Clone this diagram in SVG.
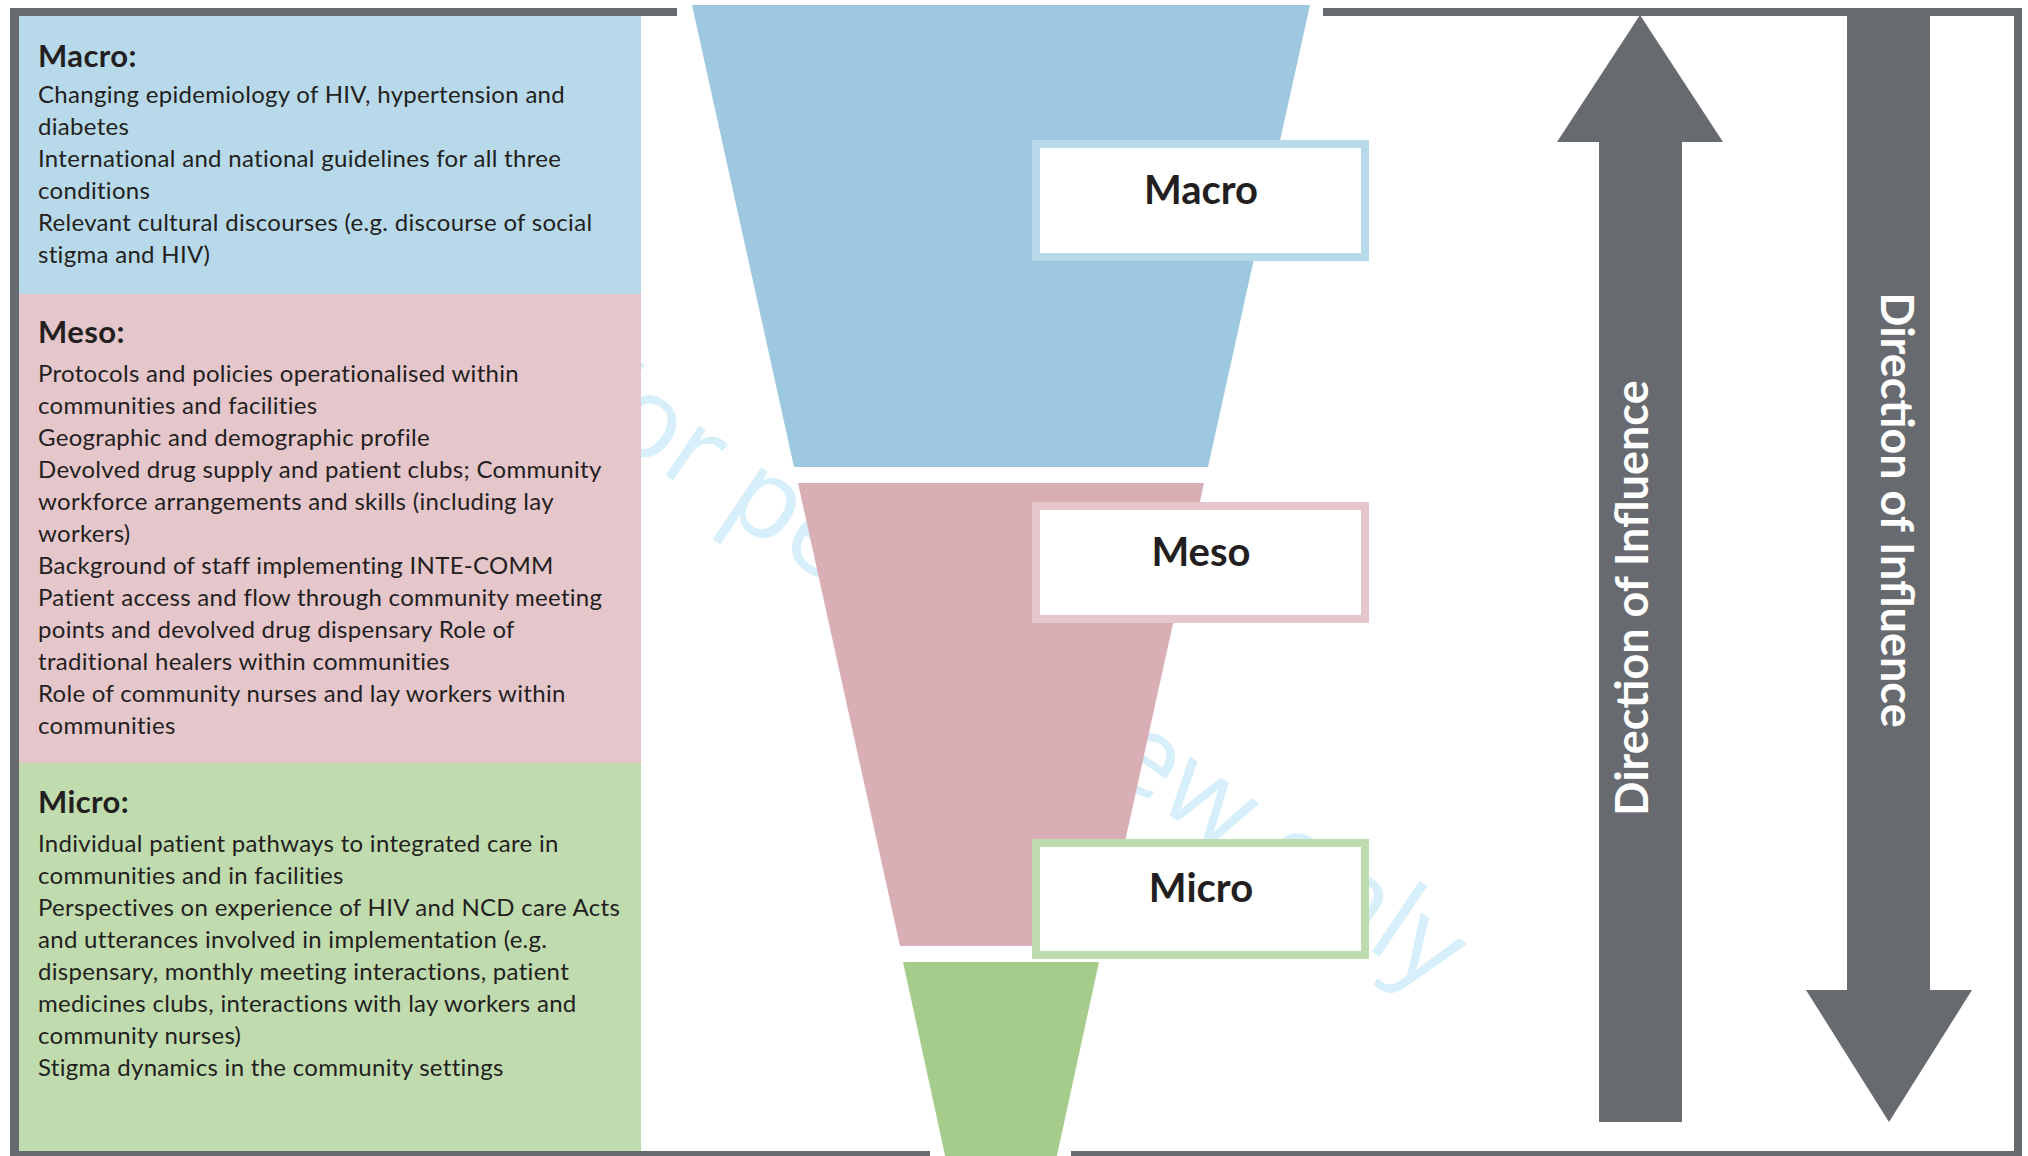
<svg xmlns="http://www.w3.org/2000/svg" width="2028" height="1156" viewBox="0 0 2028 1156">
  <style>
    .frame { fill: #676a6f; }
    .head { font-family: Lato, "Open Sans", "Liberation Sans", sans-serif; font-weight: bold; font-size: 31px; letter-spacing: 0.4px; fill: #231f20; }
    .body { font-family: Lato, "Open Sans", "Liberation Sans", sans-serif; font-size: 24px; letter-spacing: 0.3px; fill: #231f20; }
    .label { font-family: Lato, "Open Sans", "Liberation Sans", sans-serif; font-weight: bold; font-size: 40px; fill: #231f20; text-anchor: middle; }
    .dir { font-family: Lato, "Open Sans", "Liberation Sans", sans-serif; font-weight: bold; font-size: 45px; fill: #ffffff; text-anchor: middle; }
    .wm { font-family: "Open Sans", Lato, "Liberation Sans", sans-serif; font-size: 112px; fill: #d6effb; }
    .lbox { fill: #ffffff; stroke-width: 8; }
  </style>
  <rect x="0" y="0" width="2028" height="1156" fill="#ffffff"/>

  <text class="wm" transform="translate(554,400) rotate(34)">For peer review only</text>

  <g id="panel-macro">
    <rect x="19" y="16" width="622" height="278" fill="#b7d9ea"/>
    <text class="head" x="38" y="67">Macro:</text>
    <text class="body" x="38" y="103">Changing epidemiology of HIV, hypertension and</text>
    <text class="body" x="38" y="135">diabetes</text>
    <text class="body" x="38" y="167">International and national guidelines for all three</text>
    <text class="body" x="38" y="199">conditions</text>
    <text class="body" x="38" y="231">Relevant cultural discourses (e.g. discourse of social</text>
    <text class="body" x="38" y="263">stigma and HIV)</text>
  </g>

  <g id="panel-meso">
    <rect x="19" y="294" width="622" height="469" fill="#e5c6cb"/>
    <text class="head" x="38" y="343">Meso:</text>
    <text class="body" x="38" y="382">Protocols and policies operationalised within</text>
    <text class="body" x="38" y="414">communities and facilities</text>
    <text class="body" x="38" y="446">Geographic and demographic profile</text>
    <text class="body" x="38" y="478">Devolved drug supply and patient clubs; Community</text>
    <text class="body" x="38" y="510">workforce arrangements and skills (including lay</text>
    <text class="body" x="38" y="542">workers)</text>
    <text class="body" x="38" y="574">Background of staff implementing INTE-COMM</text>
    <text class="body" x="38" y="606">Patient access and flow through community meeting</text>
    <text class="body" x="38" y="638">points and devolved drug dispensary Role of</text>
    <text class="body" x="38" y="670">traditional healers within communities</text>
    <text class="body" x="38" y="702">Role of community nurses and lay workers within</text>
    <text class="body" x="38" y="734">communities</text>
  </g>

  <g id="panel-micro">
    <rect x="19" y="763" width="622" height="393" fill="#c0dbae"/>
    <text class="head" x="38" y="813">Micro:</text>
    <text class="body" x="38" y="852">Individual patient pathways to integrated care in</text>
    <text class="body" x="38" y="884">communities and in facilities</text>
    <text class="body" x="38" y="916">Perspectives on experience of HIV and NCD care Acts</text>
    <text class="body" x="38" y="948">and utterances involved in implementation (e.g.</text>
    <text class="body" x="38" y="980">dispensary, monthly meeting interactions, patient</text>
    <text class="body" x="38" y="1012">medicines clubs, interactions with lay workers and</text>
    <text class="body" x="38" y="1044">community nurses)</text>
    <text class="body" x="38" y="1076">Stigma dynamics in the community settings</text>
  </g>

  <g id="funnel">
    <polygon id="funnel-macro" points="692,5 1310,5 1208,467 794,467" fill="#9dc8df"/>
    <polygon id="funnel-meso" points="798,483 1204,483 1102,946 900,946" fill="#d9afb5"/>
    <polygon id="funnel-micro" points="903,962 1099,962 1056,1160 946,1160" fill="#a6cc8b"/>
  </g>

  <g id="label-macro">
    <rect class="lbox" x="1036" y="144" width="329" height="113" stroke="#b7d9ea"/>
    <text class="label" x="1201" y="204">Macro</text>
  </g>
  <g id="label-meso">
    <rect class="lbox" x="1036" y="506" width="329" height="113" stroke="#e5c6cb"/>
    <text class="label" x="1201" y="566">Meso</text>
  </g>
  <g id="label-micro">
    <rect class="lbox" x="1036" y="843" width="329" height="112" stroke="#c0dbae"/>
    <text class="label" x="1201" y="902">Micro</text>
  </g>

  <g id="connectors">
    <g id="arrow-up">
      <polygon class="frame" points="1640,15 1723,142 1682,142 1682,1122 1599,1122 1599,142 1557,142"/>
      <text class="dir" transform="translate(1648,598) rotate(-90)">Direction of Influence</text>
    </g>
    <g id="arrow-down">
      <polygon class="frame" points="1847,16 1930,16 1930,990 1972,990 1889,1122 1806,990 1847,990"/>
      <text class="dir" transform="translate(1881,510) rotate(90)">Direction of Influence</text>
    </g>
  </g>

  <g id="frame">
    <rect class="frame" x="10" y="8" width="667" height="8"/>
    <rect class="frame" x="1323" y="8" width="699" height="8"/>
    <rect class="frame" x="10" y="8" width="9" height="1148"/>
    <rect class="frame" x="2014" y="8" width="8" height="1148"/>
    <rect class="frame" x="10" y="1151" width="920" height="5"/>
    <rect class="frame" x="1071" y="1151" width="951" height="5"/>
  </g>
</svg>
